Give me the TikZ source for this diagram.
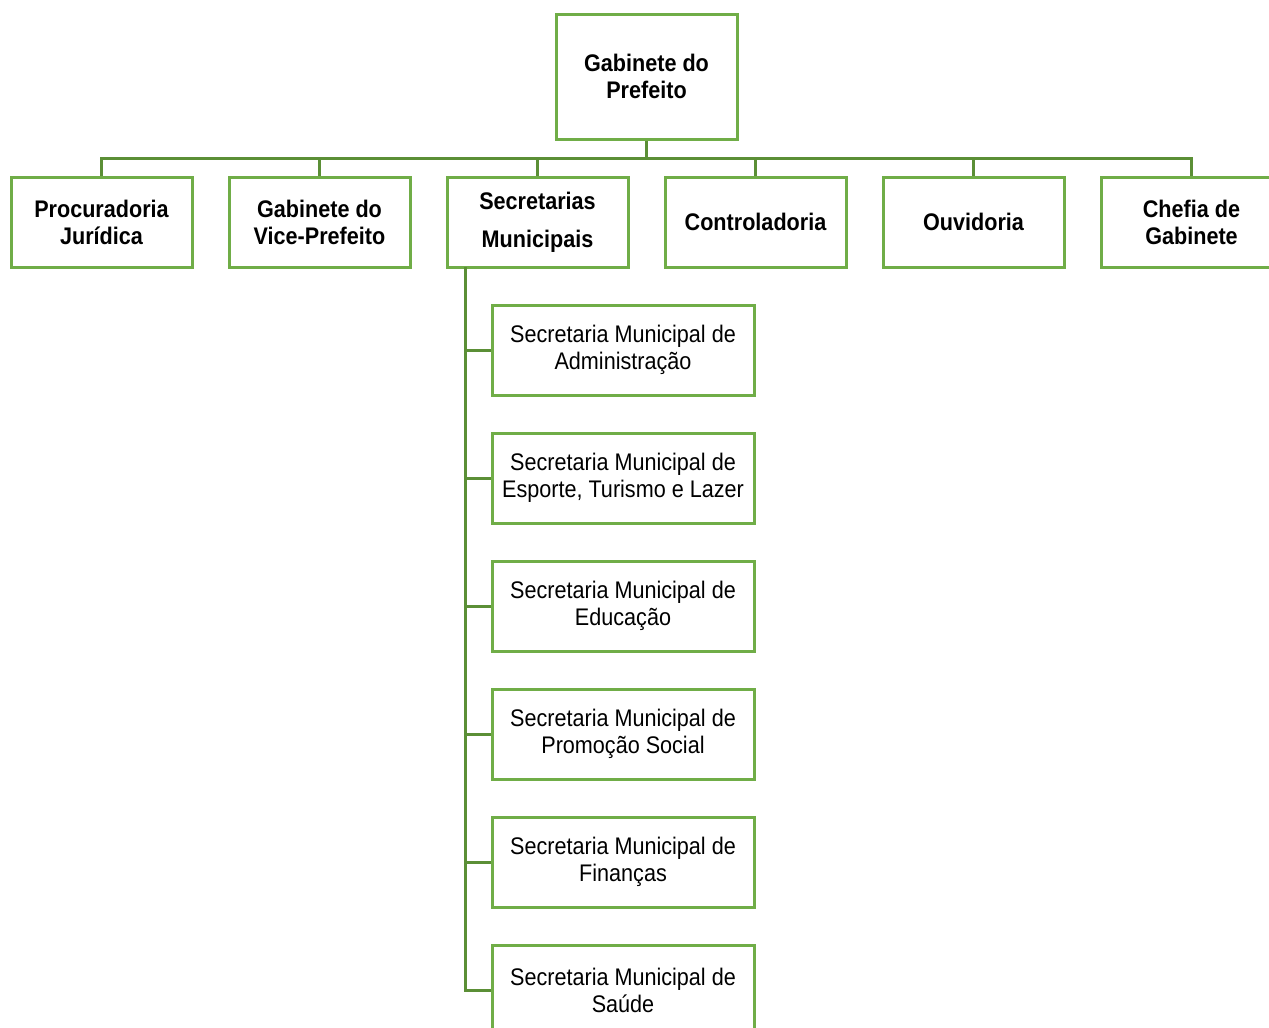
\documentclass[tikz,border=0pt]{standalone}
\usepackage{fontspec}
\setmainfont[FakeStretch=0.9]{Liberation Sans}
\definecolor{boxgreen}{HTML}{70AD47}
\definecolor{linegreen}{HTML}{5B8F36}
\begin{document}
\begin{tikzpicture}[x=1pt,y=-1pt,
  box/.style={draw=boxgreen,line width=3pt,fill=white,rectangle,inner sep=0pt,
    minimum width=181pt,minimum height=90pt,align=center},
  headbox/.style={box,font=\bfseries\fontsize{24}{27}\selectfont},
  subbox/.style={box,minimum width=262pt,font=\fontsize{24}{27}\selectfont},
  conn/.style={draw=linegreen,line width=3pt}]
\useasboundingbox (0,0) rectangle (1269,1028);
\fill[white] (0,0) rectangle (1269,1028);
% connectors drawn first (behind)
\coordinate (bus) at (646.5,158);
\coordinate (trunk) at (465,267);
\node[headbox,minimum height=125pt] (top) at (646.5,76.5) {Gabinete do\\Prefeito};
\node[headbox] (pj) at (101.5,222) {Procuradoria\\Jurídica};
\node[headbox] (gv) at (319.5,222) {Gabinete do\\Vice-Prefeito};
\node[headbox,font=\bfseries\fontsize{24}{38}\selectfont] (sm) at (537.5,222) {Secretarias\\Municipais};
\node[headbox] (ct) at (755.5,222) {Controladoria};
\node[headbox] (ov) at (973.5,222) {Ouvidoria};
\node[headbox] (cg) at (1191.5,222) {Chefia de\\Gabinete};
\node[subbox] (s1) at (623,350) {Secretaria Municipal de\\Administração};
\node[subbox] (s2) at (623,478) {Secretaria Municipal de\\Esporte, Turismo e Lazer};
\node[subbox] (s3) at (623,606) {Secretaria Municipal de\\Educação};
\node[subbox] (s4) at (623,734) {Secretaria Municipal de\\Promoção Social};
\node[subbox] (s5) at (623,862) {Secretaria Municipal de\\Finanças};
\node[subbox] (s6) at (623,990) {Secretaria Municipal de\\Saúde};
\begin{scope}[conn]
\draw (top.south) -- (bus);
\draw (pj.north) -- (pj.north|-bus) -- (cg.north|-bus) -- (cg.north);
\draw (gv.north) -- (gv.north|-bus);
\draw (sm.north) -- (sm.north|-bus);
\draw (ct.north) -- (ct.north|-bus);
\draw (ov.north) -- (ov.north|-bus);
\draw (trunk) -- (trunk|-s6.west) -- (s6.west);
\draw (trunk|-s1.west) -- (s1.west);
\draw (trunk|-s2.west) -- (s2.west);
\draw (trunk|-s3.west) -- (s3.west);
\draw (trunk|-s4.west) -- (s4.west);
\draw (trunk|-s5.west) -- (s5.west);
\end{scope}
\end{tikzpicture}
\end{document}
